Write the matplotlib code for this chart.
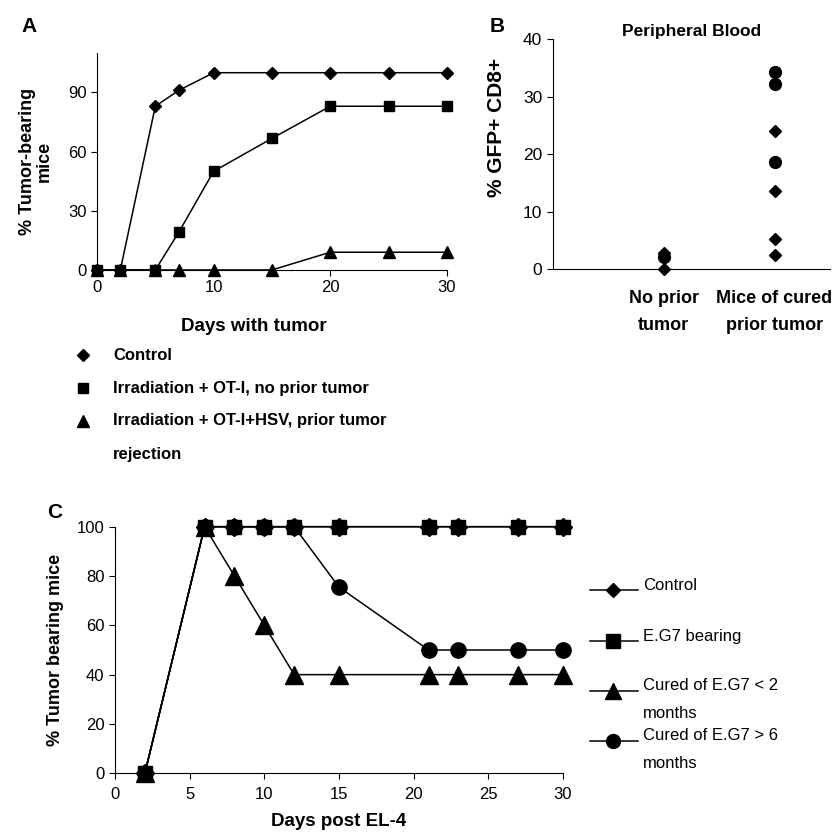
import matplotlib
matplotlib.use("Agg")
import matplotlib.pyplot as plt
from matplotlib.lines import Line2D

# ---- data ----
# panel A: % tumor-bearing mice vs days with tumor
days_a = [0, 2, 5, 7, 10, 15, 20, 25, 30]
control_a = [0, 0, 83, 91, 100, 100, 100, 100, 100]
irrad_ot1 = [0, 0, 0, 19, 50, 66.7, 83, 83, 83]
irrad_hsv = [0, 0, 0, 0, 0, 0, 9, 9, 9]
legend_a = ["Control", "Irradiation + OT-I, no prior tumor",
            "Irradiation + OT-I+HSV, prior tumor", "rejection"]

# panel B: % GFP+ CD8+ in peripheral blood
groups_b = ["No prior\ntumor", "Mice of cured\nprior tumor"]
noprior_diamond = [0, 2.7]
noprior_circle = [2.1]
cured_diamond = [24.1, 13.6, 5.3, 2.4]
cured_circle = [34.3, 32.2, 18.7]

# panel C: % tumor bearing mice vs days post EL-4
days_c = [2, 6, 8, 10, 12, 15, 21, 23, 27, 30]
control_c = [0, 100, 100, 100, 100, 100, 100, 100, 100, 100]
eg7_c = [0, 100, 100, 100, 100, 100, 100, 100, 100, 100]
cured_lt2 = [0, 100, 80, 60, 40, 40, 40, 40, 40, 40]
cured_gt6 = [0, 100, 100, 100, 100, 75.5, 50, 50, 50, 50]
legend_c = ["Control", "E.G7 bearing", "Cured of E.G7 < 2\nmonths",
            "Cured of E.G7 > 6\nmonths"]

plt.rcParams["font.family"] = "Liberation Sans"

W, H = 837, 833
fig = plt.figure(figsize=(W / 100, H / 100), dpi=100)


def style_axes(ax):
    for s in ["top", "right"]:
        ax.spines[s].set_visible(False)
    for s in ["left", "bottom"]:
        ax.spines[s].set_linewidth(0.8)
    ax.tick_params(direction="out", length=4, width=0.8)


def px(x, y):
    # pixel position -> figure fraction
    return x / W, 1 - y / H


# ---------------- panel A ----------------
axA = fig.add_axes([0.1159, 0.6759, 0.418, 0.2605])
style_axes(axA)
axA.plot(days_a, control_a, color="black", lw=1.1, marker="D", ms=6,
         clip_on=False, zorder=3)
axA.plot(days_a, irrad_hsv, color="black", lw=1.1, marker="^", ms=8,
         clip_on=False, zorder=3)
axA.plot(days_a, irrad_ot1, color="black", lw=1.1, marker="s", ms=7,
         clip_on=False, zorder=4)
axA.set_xlim(0, 30)
axA.set_ylim(0, 110)
axA.set_xticks([0, 10, 20, 30])
axA.set_yticks([0, 30, 60, 90])
axA.tick_params(labelsize=12)
axA.set_xlabel("Days with tumor", fontsize=13.5, fontweight="bold")
axA.xaxis.set_label_coords(0.449, -0.222)
axA.set_ylabel("% Tumor-bearing\nmice", fontsize=13, fontweight="bold",
               linespacing=1.0)
axA.yaxis.set_label_coords(-0.127, 0.5)
fig.text(*px(29, 26), "A", fontsize=15, fontweight="bold",
         ha="center", va="center")

# legend of panel A (drawn by hand to keep the wrapped last entry)
leg_y = [355, 388, 421, 455]
leg_m = ["D", "s", "^", None]
leg_ms = [6, 7, 8, 0]
for lab, mk, ms, y in zip(legend_a, leg_m, leg_ms, leg_y):
    if mk is not None:
        fig.add_artist(Line2D([83 / W], [1 - y / H], marker=mk, ms=ms,
                              color="black", lw=0))
    fig.text(*px(113, y), lab, fontsize=12, fontweight="bold", va="center")

# ---------------- panel B ----------------
axB = fig.add_axes([0.6603, 0.6771, 0.3313, 0.2757])
style_axes(axB)
axB.plot([1] * len(noprior_diamond), noprior_diamond, ls="none", marker="D",
         ms=6, color="black", clip_on=False)
axB.plot([1] * len(noprior_circle), noprior_circle, ls="none", marker="o",
         ms=8.5, color="black", clip_on=False)
axB.plot([2] * len(cured_diamond), cured_diamond, ls="none", marker="D",
         ms=6, color="black", clip_on=False)
axB.plot([2] * len(cured_circle), cured_circle, ls="none", marker="o",
         ms=8.5, color="black", clip_on=False)
axB.set_xlim(0, 2.5)
axB.set_ylim(0, 40)
axB.set_yticks([0, 10, 20, 30, 40])
axB.set_xticks([1, 2])
axB.set_xticklabels(groups_b, fontsize=13, fontweight="bold", linespacing=1.75)
axB.tick_params(axis="x", length=0, pad=15)
axB.tick_params(axis="y", labelsize=12.5)
axB.set_ylabel("% GFP+ CD8+", fontsize=15, fontweight="bold")
axB.yaxis.set_label_coords(-0.17, 0.617)
axB.set_title("Peripheral Blood", fontsize=12.5, fontweight="bold", pad=2)
fig.text(*px(497, 26), "B", fontsize=15, fontweight="bold",
         ha="center", va="center")

# ---------------- panel C ----------------
axC = fig.add_axes([0.1374, 0.0717, 0.5352, 0.296])
style_axes(axC)
axC.plot(days_c, cured_gt6, color="black", lw=1.1, marker="o", ms=11,
         clip_on=False, zorder=3)
axC.plot(days_c, cured_lt2, color="black", lw=1.1, marker="^", ms=13,
         clip_on=False, zorder=3)
axC.plot(days_c, eg7_c, color="black", lw=1.1, marker="s", ms=10.5,
         clip_on=False, zorder=4)
axC.plot(days_c, control_c, color="black", lw=1.1, marker="D", ms=9,
         clip_on=False, zorder=5)
axC.set_xlim(0, 30)
axC.set_ylim(0, 100)
axC.set_xticks([0, 5, 10, 15, 20, 25, 30])
axC.set_yticks([0, 20, 40, 60, 80, 100])
axC.tick_params(labelsize=12)
axC.tick_params(axis="x", pad=6)
axC.set_xlabel("Days post EL-4", fontsize=13.5, fontweight="bold",
               labelpad=8)
axC.set_ylabel("% Tumor bearing mice", fontsize=13, fontweight="bold",
               labelpad=9)
fig.text(*px(55, 512), "C", fontsize=15, fontweight="bold",
         ha="center", va="center")

# legend of panel C
legc_y = [585, 636, 686, 736]
legc_m = ["D", "s", "^", "o"]
legc_ms = [7.5, 9.5, 11, 10]
for lab, mk, ms, y in zip(legend_c, legc_m, legc_ms, legc_y):
    ym = 1 - (y + 5) / H
    fig.add_artist(Line2D([590 / W, 613 / W, 638 / W], [ym, ym, ym],
                          color="black", lw=1.1, marker=mk, ms=ms,
                          markevery=[1]))
    for i, ln in enumerate(lab.split("\n")):
        fig.text(*px(643, y + i * 28), ln, fontsize=12, va="center")

fig.savefig("out.png", dpi=100)
